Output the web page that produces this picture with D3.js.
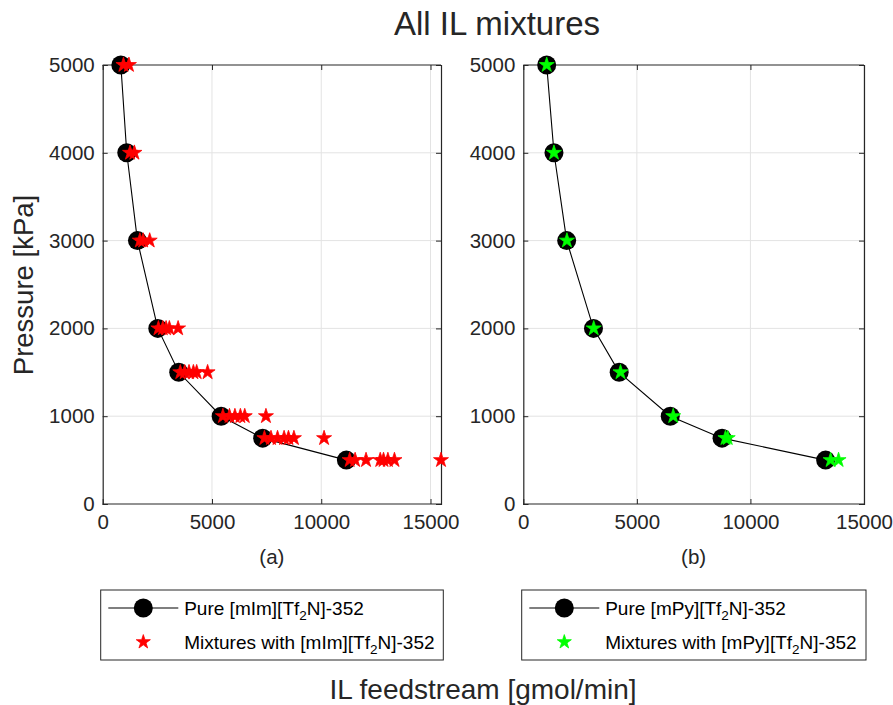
<!DOCTYPE html>
<html>
<head>
<meta charset="utf-8">
<script src="https://cdn.jsdelivr.net/npm/d3@7"></script>
<style>
  html, body { margin: 0; padding: 0; background: #fff; }
  svg { display: block; font-family: "Liberation Sans", Arial, Helvetica, sans-serif; }
</style>
</head>
<body>
<svg id="fig" width="893" height="705"></svg>
<script>
// Pressure levels shared by both panels (kPa)
const pressure = [5000, 4000, 3000, 2000, 1500, 1000, 750, 500];

// Pure IL feedstream needed at each pressure (gmol/min)
const pureMIm = [830, 1100, 1590, 2520, 3480, 5420, 7320, 11150];
const pureMPy = [1030, 1350, 1910, 3090, 4220, 6470, 8750, 13310];

// Mixtures containing [mIm][Tf2N]-352
const mixMImPressure = [
  5000, 5000,
  4000, 4000,
  3000, 3000, 3000,
  2000, 2000, 2000, 2000, 2000,
  1500, 1500, 1500, 1500, 1500, 1500,
  1000, 1000, 1000, 1000, 1000, 1000,
  750, 750, 750, 750, 750, 750, 750,
  500, 500, 500, 500, 500, 500, 500, 500
];
const mixMImFeed = [
  950, 1200,
  1250, 1450,
  1700, 1850, 2150,
  2550, 2750, 2900, 3050, 3450,
  3550, 3750, 3950, 4150, 4300, 4800,
  5500, 5800, 6050, 6300, 6500, 7470,
  7400, 7700, 8000, 8300, 8500, 8750, 10130,
  11300, 11550, 12050, 12700, 12850, 13050, 13350, 15480
];

// Mixtures containing [mPy][Tf2N]-352
const mixMPyPressure = [5000, 4000, 3000, 2000, 1500, 1000, 750, 750, 500, 500];
const mixMPyFeed = [1030, 1350, 1920, 3100, 4280, 6600, 8900, 9000, 13530, 13880];

// Axis ticks
const xTicks = [0, 5000, 10000, 15000];
const yTicks = [0, 1000, 2000, 3000, 4000, 5000];

// Text
const titleText = "All IL mixtures";
const yLabelText = "Pressure [kPa]";
const xLabelText = "IL feedstream [gmol/min]";
const panelTags = ["(a)", "(b)"];
const ilNames = ["[mIm][Tf", "[mPy][Tf"];

const svg = d3.select("#fig");
const axisColor = "#262626";
const gridColor = "#e3e3e3";

const panels = [
  {
    left: 102.7, right: 441, top: 65, bottom: 504,
    xmax: d3.max(mixMImFeed.concat(pureMIm)),
    pure: pureMIm, mixP: mixMImPressure, mixF: mixMImFeed,
    starColor: "#ff0000", tag: panelTags[0], name: ilNames[0],
    legend: { x: 100.7, y: 590, w: 342.6, h: 70 }
  },
  {
    left: 523.3, right: 864, top: 65, bottom: 504,
    xmax: 15000,
    pure: pureMPy, mixP: mixMPyPressure, mixF: mixMPyFeed,
    starColor: "#00ff00", tag: panelTags[1], name: ilNames[1],
    legend: { x: 521.7, y: 590, w: 344.3, h: 70 }
  }
];

const star = d3.symbol().type(d3.symbolStar).size(70);
const legendStar = d3.symbol().type(d3.symbolStar).size(62);

panels.forEach(p => {
  const x = d3.scaleLinear().domain([0, p.xmax]).range([p.left, p.right]);
  const y = d3.scaleLinear().domain([0, 5000]).range([p.bottom, p.top]);
  const g = svg.append("g");

  // grid
  g.append("g").selectAll("line").data(xTicks.filter(t => t > 0 && t <= p.xmax)).join("line")
    .attr("x1", d => x(d)).attr("x2", d => x(d))
    .attr("y1", p.top).attr("y2", p.bottom)
    .attr("stroke", gridColor).attr("stroke-width", 1);
  g.append("g").selectAll("line").data(yTicks.filter(t => t > 0 && t < 5000)).join("line")
    .attr("x1", p.left).attr("x2", p.right)
    .attr("y1", d => y(d)).attr("y2", d => y(d))
    .attr("stroke", gridColor).attr("stroke-width", 1);

  // axes with inward ticks on all four sides
  const tickLen = 5;
  const bottomAxis = d3.axisBottom(x).tickValues(xTicks).tickSize(-tickLen).tickPadding(10).tickFormat(d3.format("d"));
  const topAxis = d3.axisTop(x).tickValues(xTicks.filter(t => t <= p.xmax)).tickSize(-tickLen).tickFormat("");
  const leftAxis = d3.axisLeft(y).tickValues(yTicks).tickSize(-tickLen).tickPadding(8).tickFormat(d3.format("d"));
  const rightAxis = d3.axisRight(y).tickValues(yTicks).tickSize(-tickLen).tickFormat("");

  const styleAxis = sel => {
    sel.selectAll("path").attr("stroke", axisColor).attr("stroke-width", 1.2);
    sel.selectAll("line").attr("stroke", axisColor);
    sel.selectAll("text").attr("fill", axisColor).attr("font-size", 20.5)
      .attr("font-family", "Liberation Sans, Arial, sans-serif");
  };
  g.append("g").attr("transform", `translate(0,${p.bottom})`).call(bottomAxis).call(styleAxis)
    .call(s => s.select(".domain").attr("d", `M${p.left},0H${p.right}`));
  g.append("g").attr("transform", `translate(0,${p.top})`).call(topAxis).call(styleAxis)
    .call(s => s.select(".domain").attr("d", `M${p.left},0H${p.right}`));
  g.append("g").attr("transform", `translate(${p.left},0)`).call(leftAxis).call(styleAxis);
  g.append("g").attr("transform", `translate(${p.right},0)`).call(rightAxis).call(styleAxis);

  // pure IL curve with circle markers
  const purePts = pressure.map((pr, i) => [p.pure[i], pr]);
  g.append("path").datum(purePts)
    .attr("d", d3.line().x(d => x(d[0])).y(d => y(d[1])))
    .attr("fill", "none").attr("stroke", "#000").attr("stroke-width", 1.1);
  g.append("g").selectAll("circle").data(purePts).join("circle")
    .attr("cx", d => x(d[0])).attr("cy", d => y(d[1])).attr("r", 9.5)
    .attr("fill", "#000");

  // mixture stars
  const mixPts = p.mixP.map((pr, i) => [p.mixF[i], pr]);
  g.append("g").selectAll("path").data(mixPts).join("path")
    .attr("d", star)
    .attr("transform", d => `translate(${x(d[0])},${y(d[1])})`)
    .attr("fill", p.starColor).attr("stroke", p.starColor).attr("stroke-width", 0.8);

  // panel tag
  g.append("text").attr("x", (p.left + p.right) / 2).attr("y", 564)
    .attr("text-anchor", "middle").attr("font-size", 20.5).attr("fill", axisColor)
    .text(p.tag);

  // legend
  const L = p.legend;
  const lg = svg.append("g").attr("transform", `translate(${L.x},${L.y})`);
  lg.append("rect").attr("width", L.w).attr("height", L.h)
    .attr("fill", "#fff").attr("stroke", axisColor).attr("stroke-width", 1);
  lg.append("line").attr("x1", 7.6).attr("x2", 77.6).attr("y1", 18).attr("y2", 18)
    .attr("stroke", "#000").attr("stroke-width", 1.1);
  lg.append("circle").attr("cx", 42.6).attr("cy", 18).attr("r", 9.5).attr("fill", "#000");
  lg.append("path").attr("d", legendStar).attr("transform", "translate(42.6,52)")
    .attr("fill", p.starColor).attr("stroke", p.starColor).attr("stroke-width", 0.8);

  const addEntry = (prefix, yPos) => {
    const t = lg.append("text").attr("x", 83.5).attr("y", yPos)
      .attr("font-size", 19).attr("fill", "#000");
    t.append("tspan").text(prefix + p.name);
    t.append("tspan").attr("font-size", 13.5).attr("dy", 5.5).text("2");
    t.append("tspan").attr("dy", -5.5).text("N]-352");
  };
  addEntry("Pure ", 24.5);
  addEntry("Mixtures with ", 58.5);
});

// figure titles
svg.append("text").attr("x", 497).attr("y", 35).attr("text-anchor", "middle")
  .attr("font-size", 33).attr("fill", axisColor).text(titleText);
svg.append("text").attr("transform", "translate(33,285) rotate(-90)").attr("text-anchor", "middle")
  .attr("font-size", 27.5).attr("fill", axisColor).text(yLabelText);
svg.append("text").attr("x", 483).attr("y", 699).attr("text-anchor", "middle")
  .attr("font-size", 28).attr("fill", axisColor).text(xLabelText);
</script>
</body>
</html>
